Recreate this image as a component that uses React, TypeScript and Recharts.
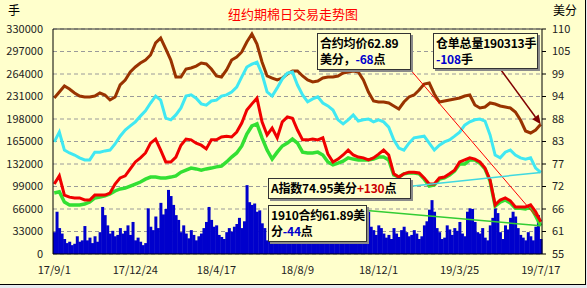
import {
  ComposedChart,
  Bar,
  Line,
  XAxis,
  YAxis,
  CartesianGrid,
  ReferenceLine,
} from "recharts";

const FONT = "'Noto Sans CJK SC', 'Noto Sans', sans-serif";

const dateTicks = ["17/9/1", "17/12/24", "18/4/17", "18/8/9", "18/12/1", "19/3/25", "19/7/17"];
const volTicks = [0, 33000, 66000, 99000, 132000, 165000, 198000, 231000, 264000, 297000, 330000];
const priceTicks = [55, 60.5, 66, 71.5, 77, 82.5, 88, 93.5, 99, 104.5, 110];

// 成交量 (手)
const volume = [
  32000, 62000, 38000, 30000, 22000, 16000, 18000, 13000, 15000, 26000,
  18000, 20000, 41000, 20000, 24000, 16000, 26000, 18000, 32000, 69000,
  57000, 42000, 30000, 34000, 26000, 28000, 38000, 30000, 34000, 42000,
  28000, 47000, 20000, 24000, 18000, 13000, 16000, 67000, 40000, 35000,
  55000, 38000, 75000, 58000, 66000, 94000, 85000, 72000, 57000, 50000,
  32000, 42000, 30000, 23000, 35000, 28000, 20000, 26000, 30000, 38000,
  47000, 69000, 50000, 40000, 42000, 28000, 25000, 22000, 32000, 38000,
  33000, 40000, 44000, 53000, 38000, 48000, 101000, 76000, 72000, 74000,
  62000, 64000, 45000, 38000, 20000, 30000, 42000, 25000, 36000, 28000,
  45000, 22000, 33000, 40000, 26000, 35000, 48000, 30000, 24000, 38000,
  29000, 42000, 27000, 33000, 50000, 31000, 26000, 37000, 44000, 28000,
  35000, 23000, 39000, 46000, 30000, 25000, 36000, 41000, 28000, 33000,
  45000, 29000, 38000, 52000, 62000, 40000, 35000, 28000, 42000, 38000,
  30000, 24000, 28000, 22000, 38000, 30000, 25000, 35000, 40000, 32000,
  26000, 28000, 35000, 30000, 22000, 26000, 42000, 48000, 65000, 79000,
  62000, 38000, 32000, 22000, 24000, 42000, 36000, 28000, 38000, 34000,
  47000, 30000, 26000, 62000, 67000, 66000, 47000, 32000, 30000, 38000,
  24000, 20000, 42000, 53000, 67000, 60000, 32000, 22000, 42000, 36000,
  53000, 62000, 55000, 38000, 28000, 24000, 20000, 32000, 26000, 20000,
  40000, 57000, 22000,
];

// 仓单总量 (手), every second day of the volume series
const cangdan = [
  228800, 237600, 246400, 242000, 236100, 231700, 230300, 230300, 231700, 236100,
  233200, 225900, 230300, 247900, 255200, 266900, 274300, 280100, 284500, 291900,
  309500, 316800, 300700, 284500, 259600, 259600, 271300, 272800, 275700, 280100,
  278700, 271300, 261100, 259600, 269900, 284500, 288900, 296300, 310900, 322700,
  308000, 281600, 261100, 258100, 255200, 258100, 264000, 268400, 268400, 261100,
  255200, 252300, 253700, 258100, 259600, 259600, 261100, 265500, 266900, 268400,
  266900, 255200, 237600, 224400, 222900, 222900, 221500, 217100, 212700, 222900,
  230300, 233200, 240500, 249300, 250800, 234700, 222900, 224400, 225900, 227300,
  228800, 231700, 233200, 218500, 214100, 215600, 221500, 220000, 217100, 215600,
  214100, 208300, 196500, 180400, 177500, 181900, 190313,
];

// A指数 (美分)
const aIndex = [
  82.4, 84.8, 80.4, 79.7, 79.2, 78.5, 78.0, 78.0, 79.9, 79.9,
  80.2, 80.4, 81.9, 83.8, 85.3, 86.3, 87.3, 88.7, 90.0, 91.9,
  93.6, 92.6, 88.2, 87.8, 89.0, 90.7, 93.6, 93.9, 93.1, 91.7,
  91.4, 92.4, 92.6, 93.6, 93.9, 94.6, 95.8, 98.3, 100.7, 101.4,
  101.9, 99.0, 94.6, 93.6, 95.6, 97.8, 99.2, 99.5, 96.3, 93.9,
  92.2, 92.9, 93.4, 91.9, 91.2, 90.2, 87.8, 86.8, 87.8, 89.0,
  87.5, 87.8, 88.0, 87.3, 87.8, 87.3, 86.0, 82.9, 80.9, 80.4,
  82.1, 83.4, 83.6, 83.8, 82.1, 80.4, 81.6, 82.4, 82.9, 83.8,
  84.8, 86.5, 87.3, 87.8, 88.0, 87.5, 84.1, 79.2, 78.5, 79.9,
  80.4, 79.2, 78.5, 78.2, 78.5, 76.0, 74.95,
];

// 合约均价 (美分)
const avgPrice = [
  72.1, 74.1, 69.4, 68.9, 68.7, 68.7, 68.2, 68.2, 69.4, 69.4,
  69.4, 69.9, 72.1, 73.6, 74.1, 75.8, 77.5, 78.5, 79.7, 82.1,
  83.1, 80.4, 77.5, 77.5, 78.7, 81.6, 83.1, 82.9, 82.1, 81.6,
  80.7, 82.9, 82.9, 83.6, 83.8, 83.6, 84.8, 87.0, 90.2, 91.7,
  93.1, 87.3, 84.1, 85.8, 83.4, 87.3, 88.5, 88.2, 85.3, 82.9,
  82.9, 83.1, 82.9, 83.4, 79.4, 77.5, 78.2, 79.2, 80.4, 79.2,
  78.7, 78.5, 78.0, 78.5, 79.4, 80.4, 79.2, 74.6, 73.8, 74.6,
  75.0, 75.0, 74.8, 73.6, 72.1, 72.1, 73.6, 73.8, 74.6, 75.5,
  77.5, 78.0, 78.5, 78.2, 77.5, 76.0, 73.1, 67.0, 68.2, 68.7,
  68.0, 66.5, 66.5, 66.5, 67.0, 65.3, 62.89,
];

// 1910合约 (美分)
const c1910 = [
  69.9, 70.2, 67.7, 67.0, 67.0, 67.0, 67.2, 67.7, 68.7, 68.9,
  69.2, 69.7, 70.4, 70.9, 71.1, 71.6, 72.1, 72.6, 73.3, 73.8,
  73.8, 73.6, 73.6, 73.8, 74.1, 75.0, 75.5, 76.0, 75.8, 75.5,
  75.8, 76.0, 76.3, 76.5, 77.5, 78.7, 79.7, 81.4, 84.3, 86.3,
  86.8, 83.4, 80.4, 78.2, 79.9, 81.4, 82.1, 83.1, 82.1, 79.9,
  79.7, 79.7, 79.9, 79.2, 77.5, 76.8, 77.2, 77.7, 78.5, 78.2,
  78.0, 78.0, 78.0, 78.2, 78.7, 78.7, 78.0, 74.3, 73.8, 74.6,
  74.8, 74.8, 74.6, 73.3, 71.6, 71.9, 73.3, 73.6, 74.3, 75.3,
  77.0, 77.0, 78.0, 78.0, 77.2, 75.8, 72.8, 66.7, 67.7, 68.2,
  67.5, 66.2, 66.2, 66.0, 66.5, 64.3, 61.89,
];

const data = volume.map((v, i) => {
  const even = i % 2 === 0;
  const k = i / 2;
  return {
    i,
    volume: v,
    cangdan: even ? cangdan[k] : null,
    aIndex: even ? aIndex[k] : null,
    avgPrice: even ? avgPrice[k] : null,
    c1910: even ? c1910[k] : null,
  };
});

const last = volume.length - 1;
const tickStyle = { fontSize: 11, fill: "#222", fontFamily: FONT };

function ArrowLine(props: any) {
  const { x1, y1, x2, y2 } = props;
  const a = Math.atan2(y2 - y1, x2 - x1);
  const len = 9;
  const w = 4;
  const bx = x2 - len * Math.cos(a);
  const by = y2 - len * Math.sin(a);
  const pts = [
    `${x2},${y2}`,
    `${bx + w * Math.sin(a)},${by - w * Math.cos(a)}`,
    `${bx - w * Math.sin(a)},${by + w * Math.cos(a)}`,
  ].join(" ");
  return (
    <g>
      <line x1={x1} y1={y1} x2={bx} y2={by} stroke="#800000" strokeWidth={1.5} />
      <polygon points={pts} fill="#800000" />
    </g>
  );
}

function Note({ left, top, width, height, children }: any) {
  return (
    <div
      style={{
        position: "absolute",
        left,
        top,
        width,
        height,
        boxSizing: "border-box",
        background: "#FFFFCC",
        border: "1px solid #333",
        boxShadow: "2px 2px 0 #8a8a8a",
        padding: "1px 2px",
        fontSize: 12,
        fontWeight: 700,
        lineHeight: "16px",
        letterSpacing: "-0.2px",
        whiteSpace: "nowrap",
        color: "#000",
        fontFamily: FONT,
      }}
    >
      {children}
    </div>
  );
}

const blue = { color: "#0000CC" };
const red = { color: "#CC0000" };
const unitStyle = { position: "absolute" as const, top: 3, fontSize: 12, lineHeight: "14px", fontFamily: FONT, color: "#000" };

export default function App() {
  return (
    <div style={{ position: "absolute", left: 0, top: 0, width: 587, height: 288, background: "#E6EBF0" }}>
      <div
        style={{
          position: "absolute",
          left: 0,
          top: 0,
          width: 586,
          height: 285,
          background: "#FFFFCC",
          borderRight: "1px solid #000",
          borderBottom: "1px solid #000",
          boxSizing: "border-box",
        }}
      >
        <ComposedChart
          width={585}
          height={284}
          data={data}
          margin={{ top: 29, right: 0, bottom: 0, left: 0 }}
          barCategoryGap={0}
        >
          <CartesianGrid yAxisId="left" vertical={false} stroke="#9a9a9a" strokeDasharray="4 3" />
          <XAxis
            dataKey="i"
            interval={31}
            tickFormatter={(v: number) => dateTicks[v / 32] ?? ""}
            height={30}
            tickLine={false}
            axisLine={{ stroke: "#000" }}
            tick={tickStyle}
            tickMargin={6}
          />
          <YAxis
            yAxisId="left"
            domain={[0, 330000]}
            ticks={volTicks}
            width={53}
            tickLine={false}
            axisLine={{ stroke: "#000" }}
            tick={tickStyle}
            tickMargin={4}
            interval={0}
          />
          <YAxis
            yAxisId="right"
            orientation="right"
            domain={[55, 110]}
            ticks={priceTicks}
            width={43}
            tickSize={4}
            tickLine={{ stroke: "#000" }}
            axisLine={{ stroke: "#000" }}
            tick={tickStyle}
            tickMargin={6}
            interval={0}
            tickFormatter={(v: number) => String(Math.round(v))}
          />
          <ReferenceLine yAxisId="left" y={330000} stroke="#333" />
          <Bar yAxisId="left" dataKey="volume" name="成交量" fill="#0000CC" isAnimationActive={false} />
          <Line yAxisId="left" dataKey="cangdan" name="仓单总量" stroke="#993300" strokeWidth={3} dot={false} activeDot={false} connectNulls isAnimationActive={false} />
          <Line yAxisId="right" dataKey="aIndex" name="A指数" stroke="#40E8F2" strokeWidth={3} dot={false} activeDot={false} connectNulls isAnimationActive={false} />
          <Line yAxisId="right" dataKey="c1910" name="1910合约" stroke="#33E033" strokeWidth={3.5} dot={false} activeDot={false} connectNulls isAnimationActive={false} />
          <Line yAxisId="right" dataKey="avgPrice" name="合约均价" stroke="#F00000" strokeWidth={3} dot={false} activeDot={false} connectNulls isAnimationActive={false} />
          <ReferenceLine
            yAxisId="right"
            segment={[{ x: 138, y: 101.9 }, { x: last, y: avgPrice[avgPrice.length - 1] }]}
            stroke="#FF0000"
            strokeWidth={1}
          />
          <ReferenceLine
            yAxisId="right"
            segment={[{ x: 135, y: 71.2 }, { x: last, y: aIndex[aIndex.length - 1] }]}
            stroke="#40D8E0"
            strokeWidth={1.5}
          />
          <ReferenceLine
            yAxisId="right"
            segment={[{ x: 120, y: 65.8 }, { x: last, y: c1910[c1910.length - 1] }]}
            stroke="#33CC33"
            strokeWidth={1.5}
          />
          <ReferenceLine
            yAxisId="left"
            segment={[{ x: 174, y: 281600 }, { x: last, y: cangdan[cangdan.length - 1] }]}
            shape={ArrowLine}
          />
        </ComposedChart>

        <div style={{ position: "absolute", left: 0, width: 586, top: 6, textAlign: "center", color: "#FF0000", fontSize: 13, lineHeight: "16px", fontFamily: FONT }}>
          纽约期棉日交易走势图
        </div>
        <div style={{ ...unitStyle, left: 8 }}>手</div>
        <div style={{ ...unitStyle, left: 553 }}>美分</div>

        <Note left={317} top={33} width={94} height={37}>
          <div>合约均价62.89</div>
          <div>美分，<span style={blue}>-68</span>点</div>
        </Note>
        <Note left={433} top={33} width={105} height={36}>
          <div>仓单总量190313手</div>
          <div><span style={blue}>-108</span>手</div>
        </Note>
        <Note left={268} top={178} width={143} height={21}>
          <div>A指数74.95美分<span style={red}>+130</span>点</div>
        </Note>
        <Note left={268} top={205} width={99} height={37}>
          <div>1910合约61.89美</div>
          <div>分<span style={blue}>-44</span>点</div>
        </Note>
      </div>
    </div>
  );
}
